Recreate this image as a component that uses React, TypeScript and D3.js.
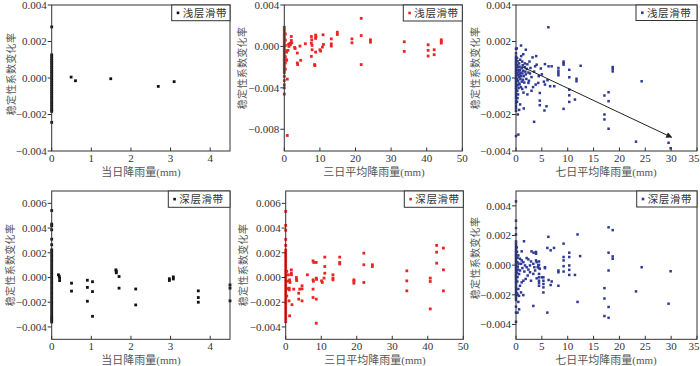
import React from "react";
import * as d3 from "d3";

// ---------- tick labels / categories ----------
const dailyTicks = [0, 1, 2, 3, 4];
const threeDayTicks = [0, 10, 20, 30, 40, 50];
const sevenDayTicks = [0, 5, 10, 15, 20, 25, 30, 35];
const yTicksA = [-0.004, -0.002, 0, 0.002, 0.004];
const yTicksB = [-0.008, -0.004, 0, 0.004];
const yTicksDeep = [-0.004, -0.002, 0, 0.002, 0.004, 0.006];
const yTicksF = [-0.004, -0.002, 0, 0.002, 0.004];
const yTitle = "稳定性系数变化率";
const xTitles = ["当日降雨量(mm)", "三日平均降雨量(mm)", "七日平均降雨量(mm)"];
const legendShallow = "浅层滑带";
const legendDeep = "深层滑带";

// ---------- series values ----------
// points lying on x = 0 (days without rain)
const shallowZeroA = [2.8e-3, 1.27e-3, 1.17e-3, 1.06e-3, 0.96e-3, 0.86e-3, 0.77e-3, 0.66e-3, 0.57e-3, 0.46e-3, 0.36e-3, 0.27e-3, 0.16e-3, 0.06e-3, -0.04e-3, -0.14e-3, -0.24e-3, -0.35e-3, -0.44e-3, -0.55e-3, -0.64e-3, -0.75e-3, -0.84e-3, -0.95e-3, -1.05e-3, -1.15e-3, -1.26e-3, -1.35e-3, -1.46e-3, -1.55e-3, -1.66e-3, -1.75e-3, -1.83e-3, -2.43e-3];
const shallowDaily: [number, number][] = [
  [0.49, 0.05e-3], [0.6, -0.15e-3], [1.49, -0.04e-3], [2.69, -0.46e-3], [3.09, -0.2e-3],
];

const shallowZeroB = [1.85e-3, 1.65e-3, 1.45e-3, 1.25e-3, 1.05e-3, 0.85e-3, 0.65e-3, 0.45e-3, 0.25e-3, 0.05e-3, -0.15e-3, -0.35e-3, -0.55e-3, -0.75e-3, -0.95e-3, -1.15e-3, -1.35e-3, -1.55e-3, -1.75e-3, -1.95e-3, -2.15e-3, -2.35e-3, -2.55e-3, -2.9e-3, -3.3e-3, -3.7e-3, -4.0e-3, -4.6e-3];
const shallowThreeDay: [number, number][] = [
  [0.3, 1.2e-3], [0.3, 0.6e-3], [0.3, 0.1e-3], [0.3, -0.4e-3], [0.3, -1.0e-3], [0.3, -1.6e-3], [0.3, -2.2e-3],
  [0.84, -8.6e-3], [0.66, -1.34e-3], [0.84, -3.16e-3], [0.57, -1.28e-3], [0.66, -0.55e-3], [1.04, -0.38e-3],
  [1.97, 0.96e-3], [1.97, 0.57e-3], [1.6, 0.3e-3], [1.5, 0.15e-3], [1.3, 0.0], [1.75, 0.2e-3], [2.1, 0.35e-3], [1.2, 0.2e-3],
  [2.9, -0.1e-3], [3.05, -0.2e-3], [3.65, -0.64e-3], [3.65, -1.6e-3], [3.75, -1.75e-3], [4.4, 0.03e-3], [4.6, -1.34e-3],
  [5.9, 0.26e-3], [7.6, 0.96e-3], [7.7, 0.64e-3], [7.6, 0.32e-3], [7.8, 0.1e-3], [7.8, -0.32e-3], [7.6, -0.96e-3],
  [8.5, -1.75e-3], [8.6, -1.85e-3], [8.8, 1.09e-3], [8.9, 0.93e-3], [8.8, 0.77e-3], [8.8, -0.55e-3],
  [10, -0.32e-3], [10.2, -0.45e-3], [10.7, -0.06e-3], [10.9, 1.12e-3], [11, 0.19e-3],
  [13.2, 0.73e-3], [13.2, 0.25e-3], [13.2, 0.03e-3], [14.9, 1.37e-3], [14.9, 1.15e-3],
  [19, 0.73e-3], [19, 0.35e-3], [21.6, 2.71e-3], [21.6, 1.05e-3], [21.6, -1.75e-3], [24.2, 0.64e-3], [24.2, 0.41e-3],
  [33.7, 0.45e-3], [33.7, -0.48e-3], [40.4, 0.16e-3], [40.4, -0.38e-3], [40.4, -0.93e-3], [42.1, -0.32e-3], [42.1, -0.8e-3],
  [44.1, 0.64e-3], [44.1, 0.48e-3], [44.1, 0.32e-3],
];

const shallowZeroC = [1.6e-3, 1.35e-3, 1.18e-3, 1.08e-3, 0.98e-3, 0.88e-3, 0.78e-3, 0.68e-3, 0.58e-3, 0.48e-3, 0.38e-3, 0.28e-3, 0.18e-3, 0.08e-3, -0.02e-3, -0.12e-3, -0.22e-3, -0.32e-3, -0.42e-3, -0.52e-3, -0.62e-3, -0.74e-3, -0.86e-3, -0.98e-3, -1.1e-3, -1.24e-3, -1.38e-3, -1.52e-3, -1.66e-3, -1.8e-3, -3.18e-3];
const shallowSevenDay: [number, number][] = [
  [0.2, 1.1e-3], [0.3, 0.92e-3], [0.25, 0.72e-3], [0.4, 0.6e-3], [0.35, 0.45e-3], [0.5, 0.35e-3], [0.3, 0.25e-3], [0.45, 0.15e-3],
  [0.6, 0.05e-3], [0.2, -0.05e-3], [0.4, -0.15e-3], [0.55, -0.3e-3], [0.3, -0.4e-3], [0.5, -0.55e-3], [0.25, -0.7e-3], [0.4, -0.9e-3],
  [0.3, -1.1e-3], [0.2, -1.3e-3], [0.6, 0.8e-3], [0.7, 0.62e-3], [0.8, 0.45e-3], [0.9, 0.3e-3], [0.75, 0.2e-3], [1.0, 0.1e-3],
  [0.85, -0.05e-3], [1.1, -0.2e-3], [0.7, -0.35e-3], [0.95, -0.5e-3], [0.8, 1.0e-3], [1.2, 0.9e-3], [1.3, 0.7e-3], [1.1, 0.55e-3],
  [1.4, 0.4e-3], [1.25, 0.25e-3], [1.5, 0.1e-3], [1.35, -0.1e-3], [1.6, -0.25e-3], [1.2, -0.6e-3], [1.45, -0.8e-3], [1.7, 0.6e-3],
  [1.8, 0.35e-3], [1.9, 0.2e-3], [2.0, -0.05e-3], [2.1, 0.5e-3], [2.2, 0.75e-3], [2.4, 0.3e-3], [2.5, -0.15e-3], [2.8, 0.55e-3],
  [3.0, 0.05e-3], [0.97, 1.78e-3], [0.15, 1.62e-3], [1.9, 1.55e-3], [1.4, 1.3e-3], [1.0, 1.2e-3], [3.2, 1.13e-3], [3.9, 1.2e-3],
  [2.6, 0.9e-3], [1.7, 0.8e-3], [4.0, 0.73e-3], [3.7, 0.64e-3], [5.6, 0.76e-3], [6.3, 0.64e-3], [6.9, 0.64e-3],
  [8.2, 0.55e-3], [8.2, 0.4e-3], [8.2, 0.27e-3], [8.2, 0.15e-3], [9.2, 0.9e-3], [9.2, 0.82e-3], [9.2, 0.73e-3],
  [10.3, 0.45e-3], [10.3, 0.04e-3], [11.7, -0.04e-3], [11.7, -0.18e-3], [12.5, 0.67e-3],
  [18.7, 0.6e-3], [18.7, 0.49e-3], [18.7, 0.36e-3], [17.1, -0.96e-3], [17.9, -0.78e-3], [17.1, -2.0e-3], [17.1, -2.27e-3],
  [17.9, -2.78e-3], [17.9, -1.27e-3], [10.3, -0.64e-3], [10.3, -0.95e-3], [10.3, -1.31e-3], [11.4, -1.18e-3], [9.2, -1.69e-3],
  [5.9, -1.55e-3], [4.6, -1.24e-3], [4.6, -1.49e-3], [5.5, -1.78e-3], [3.5, -2.4e-3], [1.5, -1.67e-3], [0.8, -1.45e-3],
  [0.45, -3.1e-3], [4.6, -0.82e-3], [5.6, -0.36e-3], [6.6, -0.45e-3], [7.4, -0.45e-3], [3.0, -0.7e-3], [3.8, -0.36e-3],
  [4.3, -0.27e-3], [2.4, -0.27e-3], [6.26, 2.78e-3], [24.3, -0.18e-3], [23.2, -3.49e-3], [29.5, -3.55e-3], [29.9, -3.85e-3],
  [3.3, -0.5e-3], [5.0, 0.2e-3], [6.1, -0.12e-3], [4.8, 0.52e-3], [5.4, -0.2e-3], [2.2, -0.9e-3], [0.6, -1.75e-3],
  [0.35, -2.0e-3], [1.9, -0.5e-3], [2.7, 0.25e-3], [3.5, 0.35e-3], [4.4, 0.1e-3],
];
// trend arrow (start, end)
const trendArrow: [number, number][] = [[1.1, 0.63e-3], [30.1, -3.25e-3]];

const deepZeroD = [5.42e-3, 4.32e-3, 4.19e-3, 3.86e-3, 3.1e-3, 2.65e-3, 2.24e-3, 2.05e-3, 1.85e-3, 1.65e-3, 1.45e-3, 1.25e-3, 1.05e-3, 0.85e-3, 0.65e-3, 0.45e-3, 0.25e-3, 0.05e-3, -0.15e-3, -0.35e-3, -0.55e-3, -0.75e-3, -0.95e-3, -1.15e-3, -1.35e-3, -1.55e-3, -1.75e-3, -1.95e-3, -2.15e-3, -2.35e-3, -2.55e-3, -2.75e-3, -2.95e-3, -3.15e-3, -3.3e-3, -3.45e-3, -3.6e-3];
const deepDaily: [number, number][] = [
  [0.17, 0.22e-3], [0.19, 0.1e-3], [0.2, -0.05e-3], [0.2, -0.25e-3], [0.5, -0.46e-3], [0.5, -1.1e-3],
  [0.9, -0.22e-3], [0.9, -0.8e-3], [0.9, -1.92e-3], [1.03, -0.34e-3], [1.03, -1.14e-3], [1.03, -3.14e-3],
  [1.62, 0.62e-3], [1.63, 0.5e-3], [1.63, 0.38e-3], [1.7, 0.08e-3], [1.7, -0.86e-3], [2.12, -0.93e-3], [2.12, -2.22e-3],
  [2.97, -0.1e-3], [2.97, -0.24e-3], [3.07, 0.05e-3], [3.07, -0.12e-3], [3.7, -1.08e-3], [3.7, -1.62e-3], [3.7, -2.0e-3],
  [4.5, -0.6e-3], [4.5, -0.86e-3], [4.5, -1.89e-3],
];

const deepZeroE = [5.35e-3, 4.22e-3, 3.82e-3, 3.08e-3, 2.6e-3, 2.22e-3, 2.02e-3, 1.82e-3, 1.62e-3, 1.42e-3, 1.22e-3, 1.02e-3, 0.82e-3, 0.62e-3, 0.42e-3, 0.22e-3, 0.02e-3, -0.18e-3, -0.38e-3, -0.58e-3, -0.78e-3, -0.98e-3, -1.18e-3, -1.38e-3, -1.58e-3, -1.78e-3, -1.98e-3, -2.18e-3, -2.38e-3, -2.58e-3, -2.78e-3, -2.98e-3, -3.18e-3, -3.38e-3, -3.58e-3];
const deepThreeDay: [number, number][] = [
  [0.3, 0.5e-3], [0.3, -0.3e-3], [0.3, -0.9e-3], [0.3, -1.5e-3], [0.75, 0.22e-3],
  [1.58, 0.62e-3], [1.58, 0.35e-3], [1.6, 0.22e-3], [1.1, -0.19e-3], [1.0, -0.27e-3], [1.2, -0.4e-3], [0.95, -0.86e-3], [1.0, -1.0e-3],
  [0.93, -1.89e-3], [1.1, -3.1e-3], [1.77, -2.2e-3], [2.25, -0.94e-3], [3.0, 0.0], [3.0, -0.13e-3], [3.1, -0.25e-3],
  [3.66, -1.27e-3], [3.66, -1.75e-3], [3.94, -0.94e-3], [4.6, -0.67e-3], [4.6, -0.92e-3], [4.6, -1.89e-3],
  [6.1, 0.22e-3], [7.7, 1.35e-3], [7.9, 1.22e-3], [7.7, -0.19e-3], [7.8, -0.3e-3], [7.7, -0.94e-3], [7.7, -1.62e-3],
  [8.6, 1.22e-3], [8.6, -0.05e-3], [8.7, -0.15e-3], [8.6, -1.75e-3], [8.6, -3.7e-3], [10.1, -0.27e-3], [10.3, -0.4e-3],
  [10.8, -0.05e-3], [11, 1.65e-3], [11, 0.89e-3], [11, 0.35e-3], [13.3, 0.22e-3], [13.3, -0.05e-3], [13.3, -0.19e-3],
  [15.2, 1.65e-3], [15.2, 1.22e-3], [15.2, 1.1e-3], [19.2, -0.19e-3], [19.2, -0.3e-3], [19.2, -0.46e-3],
  [22, 1.97e-3], [22, 1.03e-3], [22, -0.4e-3], [24.4, 1.03e-3], [24.4, 0.89e-3],
  [34.1, 0.54e-3], [34.1, -0.27e-3], [34.1, -1.08e-3], [40.7, -0.05e-3], [40.7, -0.32e-3], [40.7, -2.54e-3],
  [42.5, 2.6e-3], [42.5, 2.05e-3], [42.5, 1.16e-3], [44.4, 2.38e-3], [44.4, 0.62e-3], [44.4, -1.08e-3],
];

const deepZeroF = [4.3e-3, 3.0e-3, 2.5e-3, 2.07e-3, 1.6e-3, 1.45e-3, 1.3e-3, 1.15e-3, 1.0e-3, 0.88e-3, 0.76e-3, 0.64e-3, 0.52e-3, 0.4e-3, 0.28e-3, 0.16e-3, 0.04e-3, -0.08e-3, -0.2e-3, -0.32e-3, -0.44e-3, -0.56e-3, -0.68e-3, -0.8e-3, -0.92e-3, -1.04e-3, -1.16e-3, -1.3e-3, -1.45e-3, -1.6e-3, -1.75e-3, -1.9e-3, -2.05e-3, -2.2e-3, -2.35e-3, -2.8e-3, -3.2e-3, -3.82e-3];
const deepSevenDay: [number, number][] = [
  [0.45, 0.66e-3], [0.77, 0.43e-3], [1.1, 0.32e-3], [1.42, 0.2e-3], [0.97, 0.09e-3], [1.74, -0.02e-3], [2.06, -0.14e-3],
  [1.23, -0.2e-3], [0.77, -0.36e-3], [1.61, -0.43e-3], [2.39, -0.3e-3], [2.71, -0.48e-3], [2.26, -0.7e-3], [1.87, -0.93e-3],
  [1.42, -1.05e-3], [1.1, -1.16e-3], [0.77, -1.39e-3], [0.45, -1.61e-3], [0.97, -1.84e-3], [0.58, -2.07e-3], [1.42, -2.02e-3],
  [0.45, -2.48e-3], [0.3, -3.2e-3], [0.6, -2.98e-3],
  [4.0, 0.2e-3], [4.3, -0.02e-3], [4.2, -0.14e-3], [4.6, -0.25e-3], [3.7, -0.36e-3], [3.35, -0.59e-3], [2.9, -1.05e-3],
  [4.0, -0.89e-3], [5.0, -0.82e-3], [3.35, 0.09e-3], [2.9, 0.25e-3], [2.39, 0.39e-3], [2.06, 0.48e-3], [2.7, -0.02e-3], [3.55, -0.14e-3],
  [0.2, 0.9e-3], [0.3, 0.5e-3], [0.25, 0.2e-3], [0.35, -0.1e-3], [0.2, -0.5e-3], [0.3, -0.8e-3], [0.25, -1.1e-3], [0.4, -0.3e-3],
  [0.5, 0.1e-3], [0.6, -0.6e-3], [0.15, 1.2e-3], [0.2, -1.9e-3], [0.3, -2.0e-3], [1.1, 0.93e-3], [3.0, 0.93e-3], [3.4, 0.84e-3],
  [17.1, -1.55e-3], [17.1, -2.25e-3], [17.1, -3.43e-3], [17.9, 2.55e-3], [17.9, 0.84e-3], [17.9, -0.36e-3], [17.9, -2.82e-3],
  [17.9, -3.55e-3], [18.7, 2.36e-3], [18.7, 0.59e-3], [18.7, 0.43e-3], [24.3, -0.14e-3], [23.2, -1.77e-3], [29.5, -2.6e-3],
  [29.9, -0.41e-3], [11.9, -2.48e-3], [11.4, -0.66e-3], [10.3, 0.84e-3], [10.3, 0.55e-3], [10.3, -0.02e-3], [10.3, -0.32e-3],
  [10.3, -0.66e-3], [12.4, 0.61e-3], [9.2, 1.45e-3], [9.2, 0.55e-3], [9.2, 0.32e-3], [9.2, -0.07e-3], [9.2, -0.43e-3],
  [8.2, -0.36e-3], [8.2, -0.48e-3], [8.2, -1.39e-3], [7.35, 1.16e-3], [6.7, 1.0e-3], [6.06, 1.16e-3], [6.06, -3.2e-3],
  [6.26, 1.91e-3], [11.9, 2.07e-3], [5.6, -0.14e-3], [5.6, -0.2e-3], [5.3, -0.82e-3], [5.3, -1.05e-3], [5.3, -1.27e-3], [5.3, -1.5e-3],
  [5.3, -1.84e-3], [3.35, -2.75e-3], [3.87, 0.89e-3], [3.87, 0.77e-3], [3.87, 0.32e-3], [4.45, 0.25e-3], [4.45, 0.02e-3],
  [4.45, -0.2e-3], [4.45, -0.59e-3], [4.45, -0.82e-3], [4.45, -1.05e-3], [4.45, -1.2e-3], [4.45, -1.39e-3], [6.7, -1.34e-3],
  [6.3, -1.0e-3], [6.9, -1.1e-3], [1.55, 1.61e-3],
];

// ---------- styling ----------
const BLACK = "#111111";
const RED = "#ee2424";
const BLUE = "#2e3a94";
const FRAME = "#333333";
const TICK_TEXT = "#333333";
const TITLE_TEXT = "#555555";
const SERIF = "'Liberation Serif', 'DejaVu Serif', serif";
const CJK = "'Noto Sans CJK SC', 'Noto Sans', sans-serif";
const PAGE_W = 700;

type PanelSpec = {
  left: number; right: number; top: number; bottom: number;
  xDomain: [number, number]; yDomain: [number, number];
  xTicks: number[]; yTicks: number[];
  zero: number[]; points: [number, number][];
  color: string; size: number;
  legend: string; legendLeft: number; legendH: number;
  xTitle: string; xTitleX: number; yTitleX: number; yTitleY: number;
  arrow?: [number, number][];
};

const fmt = d3.format(".3f");

function Panel({ p, id }: { p: PanelSpec; id: string }) {
  const x = d3.scaleLinear().domain(p.xDomain).range([p.left, p.right]);
  const y = d3.scaleLinear().domain(p.yDomain).range([p.bottom, p.top]);
  const all: [number, number][] = p.zero.map((v) => [0, v] as [number, number]).concat(p.points);
  const s = p.size;
  return (
    <g>
      {all.map(([a, b], i) => (
        <rect key={i} x={x(a) - s / 2} y={y(b) - s / 2} width={s} height={s} fill={p.color} />
      ))}
      <rect x={p.left} y={p.top} width={p.right - p.left} height={p.bottom - p.top}
        fill="none" stroke={FRAME} strokeWidth={1} />
      {p.yTicks.map((t) => (
        <g key={"y" + t}>
          <line x1={p.left - 4} x2={p.left} y1={y(t)} y2={y(t)} stroke={FRAME} />
          <text x={p.left - 5} y={y(t)} dy="0.35em" textAnchor="end" fontSize={11}
            fontFamily={SERIF} fill={TICK_TEXT}>{fmt(t)}</text>
        </g>
      ))}
      {p.xTicks.map((t) => {
        const tx = x(t);
        const nearEdge = tx + 6 > PAGE_W;
        return (
          <g key={"x" + t}>
            <line x1={tx} x2={tx} y1={p.bottom} y2={p.bottom - 3.5} stroke={FRAME} />
            <text x={nearEdge ? PAGE_W - 0.5 : tx} y={p.bottom + 11} textAnchor={nearEdge ? "end" : "middle"}
              fontSize={11} fontFamily={SERIF} fill={TICK_TEXT}>{t}</text>
          </g>
        );
      })}
      {p.arrow && (
        <defs>
          <marker id={`arrow-${id}`} viewBox="0 0 10 10" refX={9} refY={5} markerWidth={8} markerHeight={6}
            markerUnits="userSpaceOnUse" orient="auto">
            <path d="M0,0 L10,5 L0,10 z" fill="#222" />
          </marker>
        </defs>
      )}
      {p.arrow && (
        <line x1={x(p.arrow[0][0])} y1={y(p.arrow[0][1])} x2={x(p.arrow[1][0])} y2={y(p.arrow[1][1])}
          stroke="#222" strokeWidth={1} markerEnd={`url(#arrow-${id})`} />
      )}
      <rect x={p.legendLeft} y={p.top} width={p.right - p.legendLeft} height={p.legendH}
        fill="#fff" stroke={FRAME} strokeWidth={1} />
      <rect x={p.legendLeft + 5} y={p.top + p.legendH / 2 - 1.3} width={2.6} height={2.6} fill={p.color} />
      <text x={p.legendLeft + 11} y={p.top + p.legendH / 2} dy="0.36em" fontSize={10.5}
        fontFamily={CJK} fill="#333" letterSpacing={0.6}>{p.legend}</text>
      <text x={p.xTitleX} y={p.bottom + 25} textAnchor="middle" fontSize={11}
        fill={TITLE_TEXT}>
        {p.xTitle.split("(")[0].split("").map((c, i) => (
          <tspan key={i} fontFamily={CJK}>{c}</tspan>
        ))}
        <tspan fontFamily={SERIF}>{"(" + p.xTitle.split("(")[1]}</tspan>
      </text>
      <text transform={`translate(${p.yTitleX},${p.yTitleY}) rotate(-90)`} textAnchor="middle" dy="0.35em"
        fontSize={10} fontFamily={CJK} fill={TITLE_TEXT} letterSpacing={0.3}>{yTitle}</text>
    </g>
  );
}

const panels: PanelSpec[] = [
  {
    left: 51.7, right: 230, top: 5, bottom: 151, xDomain: [0, 4.5], yDomain: [-0.004, 0.004],
    xTicks: dailyTicks, yTicks: yTicksA, zero: shallowZeroA, points: shallowDaily, color: BLACK, size: 2.8,
    legend: legendShallow, legendLeft: 171.7, legendH: 15.7, xTitle: xTitles[0], xTitleX: 141, yTitleX: 11, yTitleY: 74,
  },
  {
    left: 284.3, right: 462.3, top: 5, bottom: 151, xDomain: [0, 50], yDomain: [-0.0101, 0.004],
    xTicks: threeDayTicks, yTicks: yTicksB, zero: shallowZeroB, points: shallowThreeDay, color: RED, size: 2.8,
    legend: legendShallow, legendLeft: 403.3, legendH: 16, xTitle: xTitles[1], xTitleX: 374, yTitleX: 242, yTitleY: 68,
  },
  {
    left: 516, right: 697, top: 5, bottom: 151, xDomain: [0, 35], yDomain: [-0.004, 0.004],
    xTicks: sevenDayTicks, yTicks: yTicksA, zero: shallowZeroC, points: shallowSevenDay, color: BLUE, size: 2.5,
    legend: legendShallow, legendLeft: 636, legendH: 15.5, xTitle: xTitles[2], xTitleX: 606, yTitleX: 475, yTitleY: 68,
    arrow: trendArrow,
  },
  {
    left: 51.7, right: 230, top: 191, bottom: 339.3, xDomain: [0, 4.5], yDomain: [-0.005, 0.007],
    xTicks: dailyTicks, yTicks: yTicksDeep, zero: deepZeroD, points: deepDaily, color: BLACK, size: 2.8,
    legend: legendDeep, legendLeft: 168.3, legendH: 16.3, xTitle: xTitles[0], xTitleX: 141, yTitleX: 10, yTitleY: 265,
  },
  {
    left: 285.7, right: 463.3, top: 191, bottom: 339.3, xDomain: [0, 50], yDomain: [-0.005, 0.007],
    xTicks: threeDayTicks, yTicks: yTicksDeep, zero: deepZeroE, points: deepThreeDay, color: RED, size: 2.8,
    legend: legendDeep, legendLeft: 404.3, legendH: 16.3, xTitle: xTitles[1], xTitleX: 375, yTitleX: 243, yTitleY: 265,
  },
  {
    left: 516, right: 697, top: 191, bottom: 339.3, xDomain: [0, 35], yDomain: [-0.005, 0.005],
    xTicks: sevenDayTicks, yTicks: yTicksF, zero: deepZeroF, points: deepSevenDay, color: BLUE, size: 2.5,
    legend: legendDeep, legendLeft: 636.7, legendH: 16, xTitle: xTitles[2], xTitleX: 606, yTitleX: 475, yTitleY: 258,
  },
];

export default function App() {
  return (
    <svg width={700} height={366} viewBox="0 0 700 366"
      style={{ position: "absolute", left: 0, top: 0, background: "#fff" }}>
      <rect x={0} y={0} width={700} height={366} fill="#fff" />
      {panels.map((p, i) => <Panel key={i} p={p} id={"p" + i} />)}
    </svg>
  );
}
